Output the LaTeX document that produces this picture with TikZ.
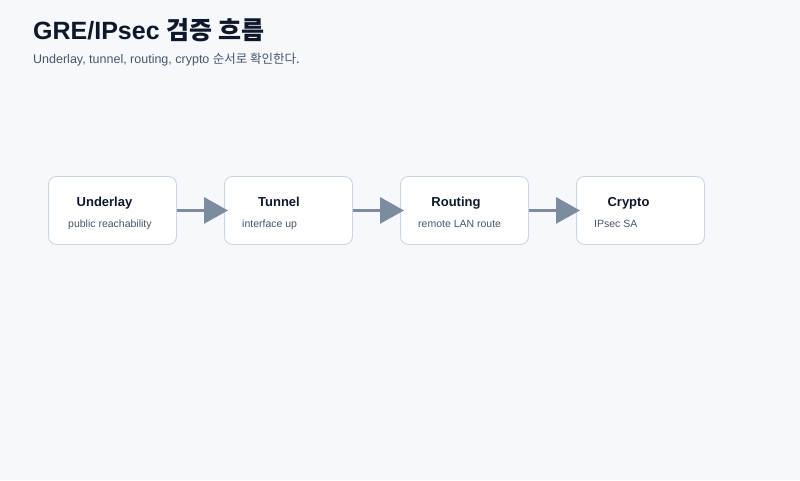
\documentclass[tikz,border=0pt]{standalone}
\usepackage{fontspec}
\setmainfont{Liberation Sans}
\newfontfamily\kr{Noto Sans CJK KR}
\usetikzlibrary{arrows.meta}
\definecolor{bg}{HTML}{F6F8FC}
\definecolor{boxline}{HTML}{CBD5E1}
\definecolor{titlecol}{HTML}{0F172A}
\definecolor{subcol}{HTML}{475569}
\definecolor{arrowcol}{HTML}{7B8CA0}
\begin{document}
\begin{tikzpicture}[x=1pt,y=-1pt,
  stagebox/.style={draw=boxline,line width=0.9pt,fill=white,rounded corners=8pt,minimum width=128pt,minimum height=68pt,inner sep=0pt,anchor=north west},
  stagetitle/.style={font=\fontsize{13}{15}\selectfont\bfseries,text=titlecol,anchor=base},
  stagesub/.style={font=\fontsize{10.5}{12}\selectfont,text=subcol,anchor=base west,inner sep=0pt},
  flow/.style={draw=arrowcol,line width=3pt,-{Triangle[length=24pt,width=26pt]},shorten >=-4pt}]
\fill[bg] (0,0) rectangle (800,480);
\useasboundingbox (0,0) rectangle (800,480);
\node[anchor=base west,inner sep=0pt,text=titlecol,font=\fontsize{25}{29}\selectfont\bfseries] (title) at (33,39.5) {GRE/IPsec {\kr 검증 흐름}};
\node[anchor=base west,inner sep=0pt,text=subcol,font=\fontsize{12.5}{15}\selectfont] (subtitle) at (33,63) {Underlay, tunnel, routing, crypto {\kr 순서로 확인한다.}};
% boxes
\node[stagebox] (b1) at (48,176) {};
\node[stagebox] (b2) at (224,176) {};
\node[stagebox] (b3) at (400,176) {};
\node[stagebox] (b4) at (576,176) {};
% titles
\node[stagetitle] (t1) at (104.5,206) {Underlay};
\node[stagetitle] (t2) at (279,206) {Tunnel};
\node[stagetitle] (t3) at (456,206) {Routing};
\node[stagetitle] (t4) at (628.5,206) {Crypto};
% subtitles
\node[stagesub] (s1) at (68,227) {public reachability};
\node[stagesub] (s2) at (242,227) {interface up};
\node[stagesub] (s3) at (418,227) {remote LAN route};
\node[stagesub] (s4) at (594,227) {IPsec SA};
% arrows
\draw[flow] (b1.east) -- (b2.west);
\draw[flow] (b2.east) -- (b3.west);
\draw[flow] (b3.east) -- (b4.west);
\end{tikzpicture}
\end{document}
